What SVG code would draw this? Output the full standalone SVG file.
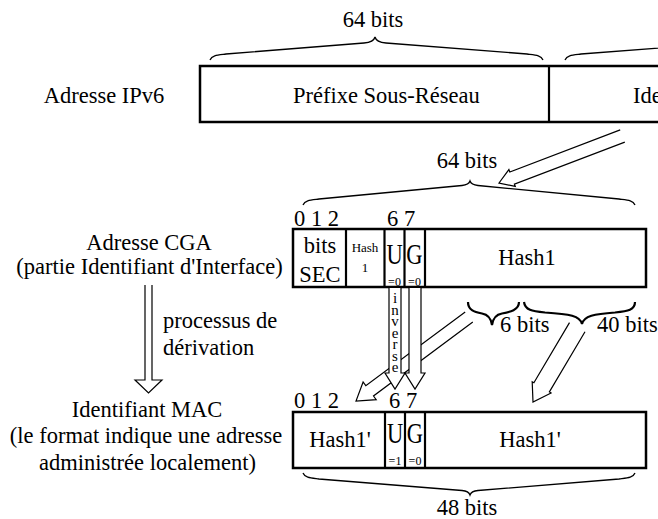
<svg xmlns="http://www.w3.org/2000/svg" width="658" height="519" viewBox="0 0 658 519" font-family="'Liberation Serif', 'DejaVu Serif', serif">
<style>
text{font-family:"Liberation Serif","DejaVu Serif",serif;fill:#000}
.t{font-size:22.5px}
.m{text-anchor:middle}
.s{font-size:13px}
.xs{font-size:12px}
.vt{font-size:15px;writing-mode:vertical-rl;text-orientation:upright;letter-spacing:-4.5px}
.box{fill:#fff;stroke:#000;stroke-width:2.5}
.div{stroke:#000;stroke-width:2.2}
.br{fill:none;stroke:#000;stroke-width:1.3}
.bb{fill:none;stroke:#000;stroke-width:2.2}
.ar{fill:none;stroke:#000;stroke-width:1.2}
.af{fill:#fff;stroke:none}
</style>

<g id="ipv6">
  <text class="t m" x="104" y="103">Adresse IPv6</text>
  <rect class="box" x="200" y="66" width="480" height="56"/>
  <line class="div" x1="549" y1="66" x2="549" y2="122"/>
  <text class="t" x="293" y="103">Préfixe Sous-Réseau</text>
  <text class="t" x="633" y="103">Ide</text>
  <path class="br" d="M210,60 C212,55 218,55 226,54 L364,43 C370,42.5 374,41 375,37 C376,41 380,42.5 386,43 L527,54 C535,55 541,55 543,60"/>
  <path class="br" d="M565,60 C567,55 573,55 581,54 L725,43"/>
  <text class="t m" x="373" y="27">64 bits</text>
</g>

<g id="cga">
  <text class="t m" x="149" y="250">Adresse CGA</text>
  <text class="t m" x="149.5" y="274">(partie Identifiant d'Interface)</text>
  <path class="br" d="M303,205 C305,200 311,200 319,199 L462,185.5 C467,185 469,184 470,181 C471,184 473,185 478,185.5 L619,199 C627,200 633,200 635,205"/>
  <text class="t m" x="467" y="168">64 bits</text>
  <text class="t" x="294" y="226">0 1 2</text>
  <text class="t" x="387" y="226">6 7</text>
  <rect class="box" x="293" y="229" width="353" height="58"/>
  <line class="div" x1="346" y1="229" x2="346" y2="287"/>
  <line class="div" x1="384.5" y1="229" x2="384.5" y2="287"/>
  <line class="div" x1="404.5" y1="229" x2="404.5" y2="287"/>
  <line class="div" x1="425" y1="229" x2="425" y2="287"/>
  <text class="t m" x="320" y="253">bits</text>
  <text class="t m" x="320" y="282">SEC</text>
  <text class="s m" x="365" y="252">Hash</text>
  <text class="s m" x="365" y="272">1</text>
  <text class="t m" x="394.5" y="264" transform="translate(0,264) scale(1,1.35) translate(0,-264)">U</text>
  <text class="t m" x="414.5" y="264" transform="translate(0,264) scale(1,1.35) translate(0,-264)">G</text>
  <text class="xs m" x="394.5" y="285.5">=0</text>
  <text class="xs m" x="414.5" y="285.5">=0</text>
  <text class="t m" x="527" y="265">Hash1</text>
</g>

<g id="derivation">
  <polyline class="ar" points="145,285 145,380 135,380 148.5,393 162,380 152,380 152,285"/>
  <text class="t" x="163" y="328">processus de</text>
  <text class="t" x="163" y="355">dérivation</text>
</g>

<g id="mac">
  <text class="t m" x="147" y="417">Identifiant MAC</text>
  <text class="t m" x="146" y="443">(le format indique une adresse</text>
  <text class="t m" x="147.5" y="470">administrée localement)</text>
  <text class="t" x="294" y="408">0 1 2</text>
  <text class="t" x="389" y="408">6 7</text>
  <rect class="box" x="293" y="412" width="353" height="56"/>
  <line class="div" x1="385" y1="412" x2="385" y2="468"/>
  <line class="div" x1="405" y1="412" x2="405" y2="468"/>
  <line class="div" x1="425" y1="412" x2="425" y2="468"/>
  <text class="t m" x="340" y="447">Hash1'</text>
  <text class="t m" x="395" y="443" transform="translate(0,443) scale(1,1.35) translate(0,-443)">U</text>
  <text class="t m" x="415" y="443" transform="translate(0,443) scale(1,1.35) translate(0,-443)">G</text>
  <text class="xs m" x="395" y="465">=1</text>
  <text class="xs m" x="415" y="465">=0</text>
  <text class="t m" x="530" y="447">Hash1'</text>
  <path class="br" d="M303,473 C305,478 311,478 319,479 L462,490.5 C467,491 469,492 470,495 C471,492 473,491 478,490.5 L619,479 C627,478 633,478 635,473"/>
  <text class="t m" x="467" y="515">48 bits</text>
</g>

<g id="connectors">
  <polyline class="ar" points="620.2,129.9 509.8,172.0 508.9,169.6 499,183 515.3,186.4 514.4,184.1 624.8,142.1"/>
  <path class="bb" d="M468,302 C468,310 474,312 482,313.5 C488,314.5 491,318 492,325 C493,318 496,314.5 502,313.5 C510,312 519,310 519,302"/>
  <text class="t" x="500" y="332">6 bits</text>
  <path class="bb" d="M524,302 C525,310 532,311 545,312.5 C570,314 580,316 582,324 C584,316 594,314 615,312.5 C628,311 635,310 635,302"/>
  <text class="t" x="597" y="332">40 bits</text>
  <polyline class="ar" points="465.2,311.9 365.8,385.7 363.1,382.0 356,401 376.2,399.7 373.5,396.0 472.8,322.1"/>
  <polyline class="ar" points="569.5,322.6 533.9,382.8 532.2,381.8 533,402 551.1,393.0 549.4,391.9 585.0,331.8"/>
  <polygon class="af" points="389,288 389,373 385,373 395,389 405,373 401,373 401,288"/>
  <polyline class="ar" points="389,288 389,373 385,373 395,389 405,373 401,373 401,288"/>
  <polygon class="af" points="409,288 409,373 405,373 415,389 425,373 421,373 421,288"/>
  <polyline class="ar" points="409,288 409,373 405,373 415,389 425,373 421,373 421,288"/>
  <text class="vt" x="395" y="290">inverse</text>
</g>
</svg>
